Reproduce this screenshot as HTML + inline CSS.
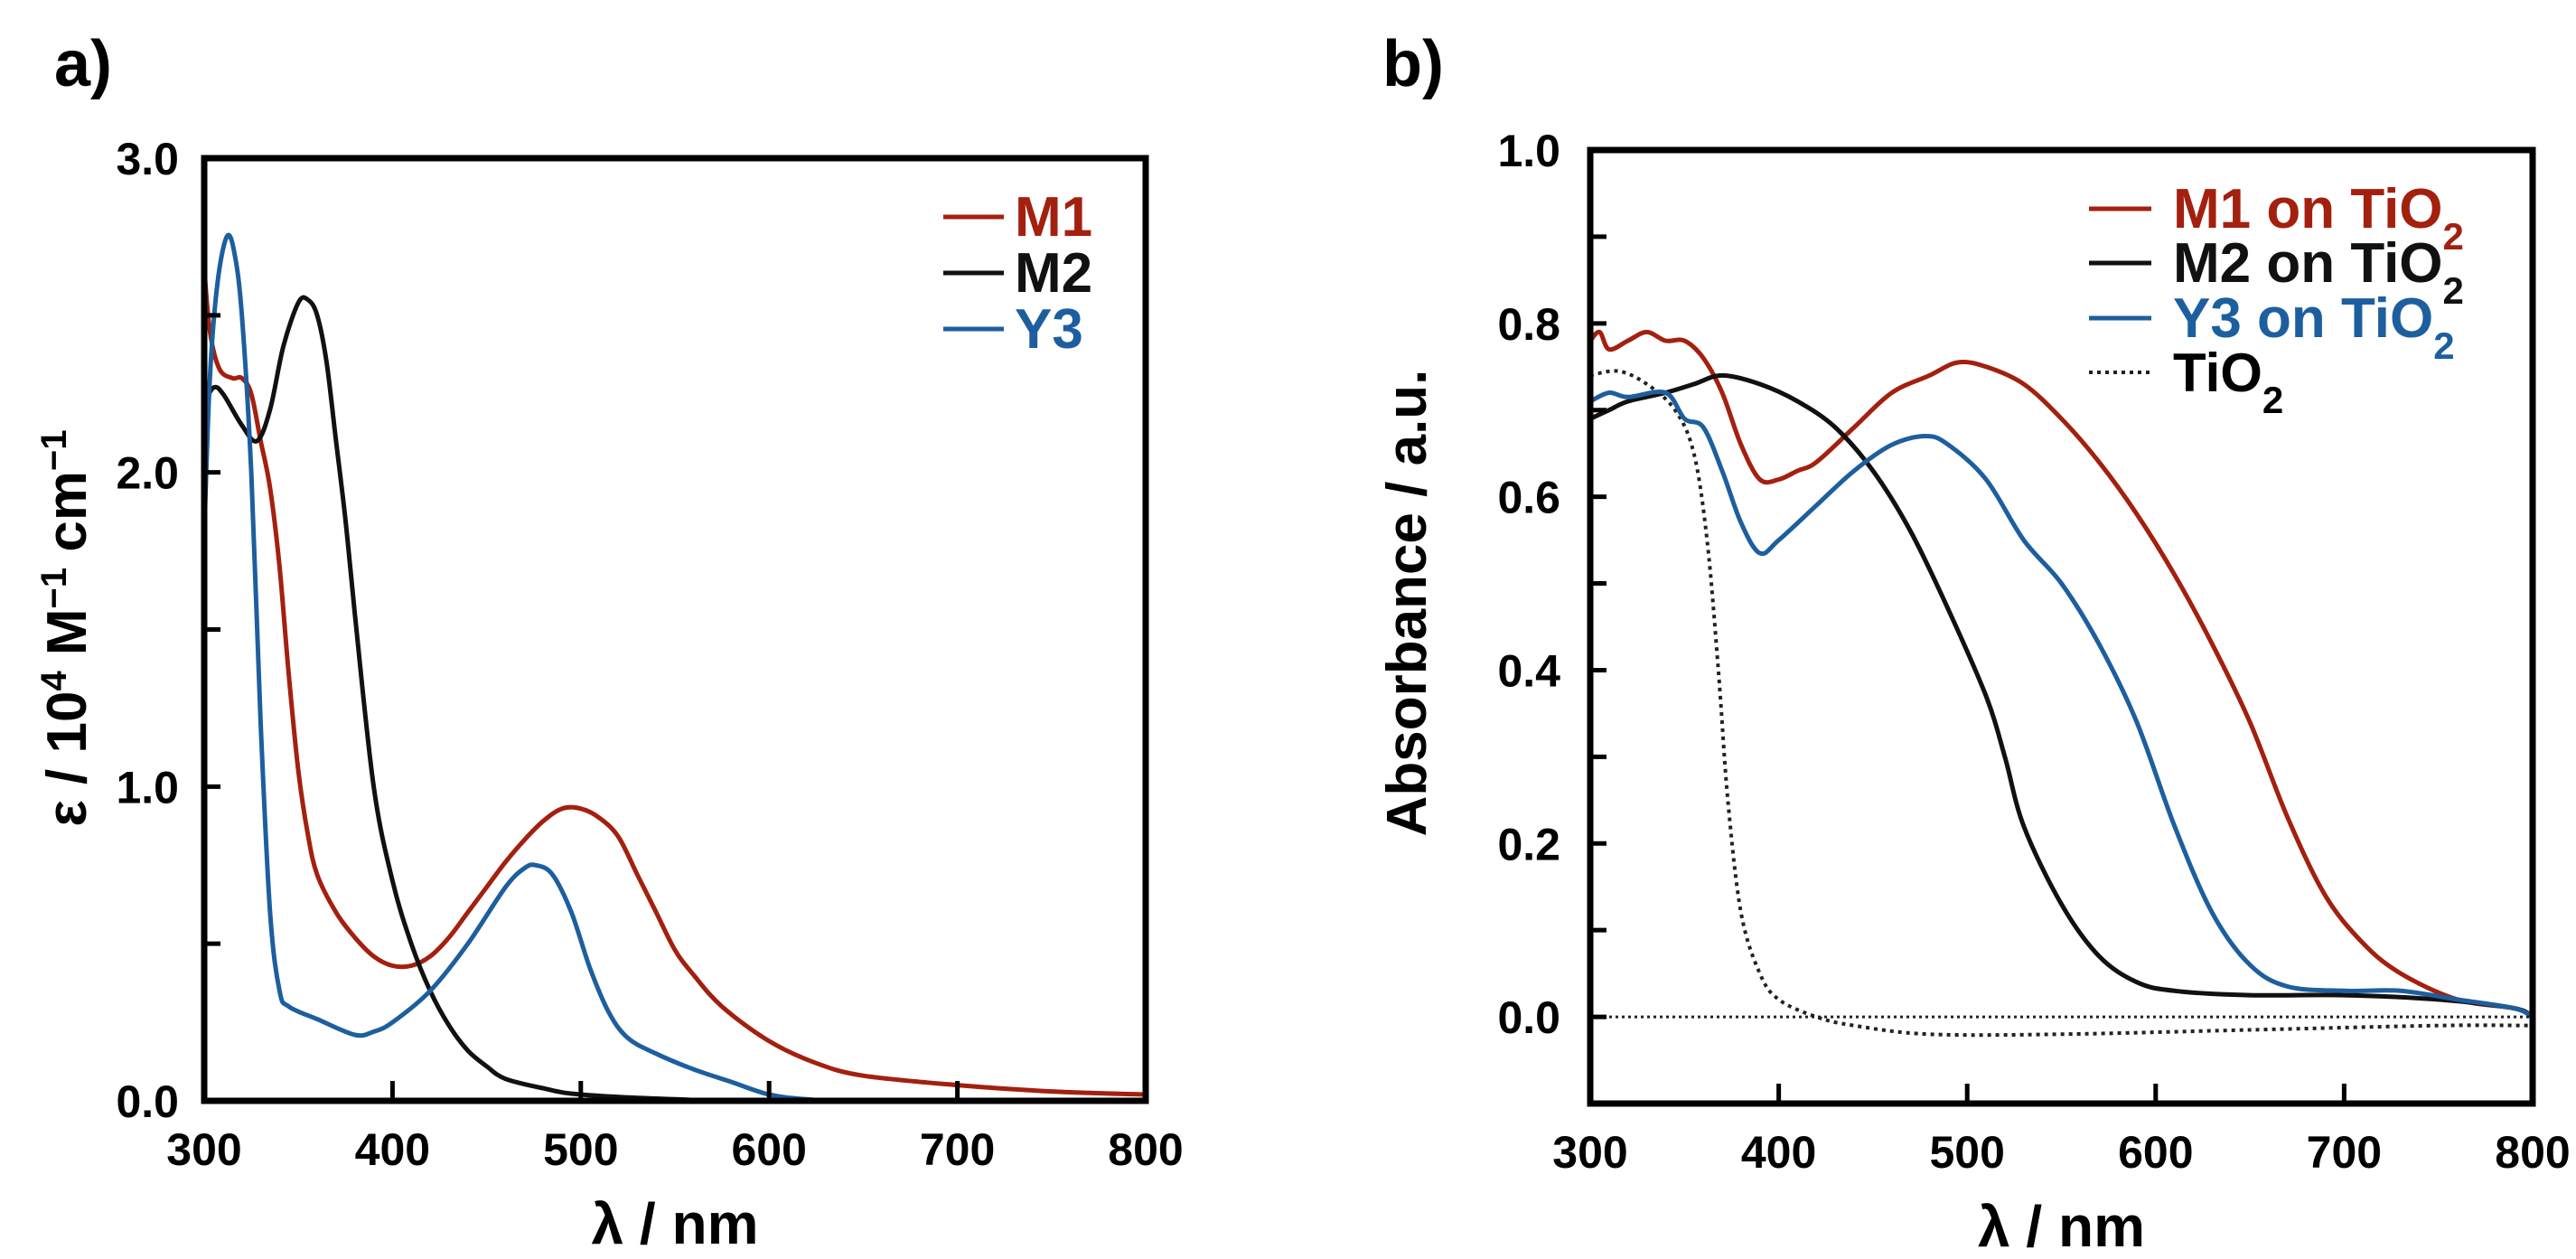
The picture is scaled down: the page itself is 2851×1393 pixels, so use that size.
<!DOCTYPE html>
<html><head><meta charset="utf-8"><style>
html,body{margin:0;padding:0;background:#fff}
svg{display:block}
text{font-family:"Liberation Sans",Arial,sans-serif;font-weight:bold}
</style></head><body>
<svg id="fig" width="2851" height="1393" viewBox="0 0 2851 1393" xmlns="http://www.w3.org/2000/svg"></svg>
<script>
// ---- Panel a data ----
const aM1x=[300,303,308,315,320,325,330,335,340,345,350,355,360,370,380,390,400,410,420,430,440,450,460,470,480,490,500,510,520,530,540,550,560,575,600,625,650,700,750,800];
const aM1y=[2.65,2.45,2.33,2.3,2.3,2.25,2.1,1.95,1.7,1.35,1.05,0.85,0.72,0.6,0.52,0.46,0.43,0.43,0.46,0.52,0.6,0.68,0.76,0.83,0.89,0.93,0.93,0.9,0.84,0.72,0.6,0.48,0.4,0.3,0.19,0.12,0.08,0.05,0.03,0.02];
const aM2x=[300,305,310,320,328,335,342,350,355,360,365,370,375,380,390,400,410,420,430,440,450,460,480,500,550,600,800];
const aM2y=[2.22,2.27,2.25,2.15,2.1,2.2,2.4,2.54,2.55,2.5,2.35,2.1,1.85,1.55,1.0,0.7,0.5,0.35,0.24,0.16,0.11,0.07,0.04,0.02,0.005,0,0];
const aY3x=[300,303,307,312,316,320,325,330,335,340,345,360,380,390,400,420,440,460,470,476,485,495,505,515,525,540,560,580,600,620,650,800];
const aY3y=[1.8,2.3,2.6,2.75,2.7,2.5,2.0,1.2,0.6,0.35,0.3,0.26,0.21,0.22,0.25,0.35,0.5,0.68,0.74,0.75,0.72,0.6,0.42,0.28,0.2,0.15,0.1,0.06,0.02,0.005,0,0];
const aXTicks=[300,400,500,600,700,800];
const aYTicks=[0,0.5,1,1.5,2,2.5,3];
const aYLabels=["0.0","","1.0","","2.0","","3.0"];
// ---- Panel b data ----
const bM1x=[300,305,310,320,330,340,350,360,370,380,390,400,410,420,440,460,480,495,510,530,550,570,590,610,630,650,670,690,710,730,760,790,800];
const bM1y=[0.78,0.79,0.77,0.78,0.79,0.78,0.78,0.76,0.72,0.66,0.62,0.62,0.63,0.64,0.68,0.72,0.74,0.755,0.75,0.73,0.69,0.64,0.58,0.51,0.43,0.34,0.23,0.14,0.085,0.05,0.02,0.01,0.0];
const bM2x=[300,310,320,340,355,370,390,410,430,450,470,490,510,520,530,550,570,590,610,650,700,750,790,800];
const bM2y=[0.69,0.7,0.71,0.72,0.73,0.74,0.73,0.71,0.68,0.63,0.56,0.47,0.37,0.3,0.22,0.13,0.07,0.04,0.03,0.025,0.025,0.02,0.01,0];
const bY3x=[300,310,320,340,350,360,370,380,390,400,420,440,460,478,490,510,530,550,570,590,610,630,650,670,700,730,760,790,800];
const bY3y=[0.71,0.72,0.715,0.72,0.69,0.68,0.63,0.57,0.535,0.55,0.59,0.63,0.66,0.67,0.66,0.62,0.55,0.5,0.43,0.34,0.22,0.12,0.06,0.035,0.03,0.03,0.02,0.01,0];
const bTiO2x=[300,315,330,345,355,362,368,373,380,390,400,420,440,480,550,650,750,800];
const bTiO2y=[0.74,0.745,0.73,0.7,0.65,0.55,0.4,0.25,0.12,0.05,0.02,0.0,-0.01,-0.02,-0.02,-0.015,-0.01,-0.01];
const bXTicks=[300,400,500,600,700,800];
const bYTicks=[-0.1,0,0.1,0.2,0.3,0.4,0.5,0.6,0.7,0.8,0.9,1.0];
const bYLabels=["","0.0","","0.2","","0.4","","0.6","","0.8","","1.0"];

const NS="http://www.w3.org/2000/svg";
const svg=document.getElementById('fig');
function el(tag,attrs,parent){const e=document.createElementNS(NS,tag);for(const k in attrs)e.setAttribute(k,attrs[k]);(parent||svg).appendChild(e);return e;}
const RED="#a3200f",BLK="#111",BLU="#1d5f9e";

function smoothPath(pts){
  let d='M'+pts[0][0].toFixed(1)+' '+pts[0][1].toFixed(1);
  for(let i=0;i<pts.length-1;i++){
    const p0=pts[Math.max(0,i-1)],p1=pts[i],p2=pts[i+1],p3=pts[Math.min(pts.length-1,i+2)];
    const c1x=p1[0]+(p2[0]-p0[0])/6,c1y=p1[1]+(p2[1]-p0[1])/6;
    const c2x=p2[0]-(p3[0]-p1[0])/6,c2y=p2[1]-(p3[1]-p1[1])/6;
    d+='C'+c1x.toFixed(1)+' '+c1y.toFixed(1)+' '+c2x.toFixed(1)+' '+c2y.toFixed(1)+' '+p2[0].toFixed(1)+' '+p2[1].toFixed(1);
  }
  return d;
}

function panel(P){
  const g=el('g',{});
  
  
  const X=v=>P.x0+(v-P.xmin)/(P.xmax-P.xmin)*(P.x1-P.x0);
  const Y=v=>P.y1-(v-P.ymin)/(P.ymax-P.ymin)*(P.y1-P.y0);
  P.series.forEach(s=>{
    const pts=s.x.map((v,i)=>[X(v),Y(s.y[i])]);
    const p=el('path',{d:smoothPath(pts),fill:'none',stroke:s.color,'stroke-width':s.dash?4:5,'stroke-linejoin':'round'},g);
    if(s.dash)p.setAttribute('stroke-dasharray',s.dash);
    
    
  });
  if(P.zeroLine){
    const z=el('line',{x1:P.x0,x2:P.x1,y1:Y(0),y2:Y(0),stroke:'#222','stroke-width':3,'stroke-dasharray':'3 4'},g);
    
    
  }
  const f=el('rect',{x:P.x0,y:P.y0,width:P.x1-P.x0,height:P.y1-P.y0,fill:'none',stroke:'#000','stroke-width':7},g);
  
  
  P.xticks.forEach(t=>{
    el('line',{x1:X(t),x2:X(t),y1:P.y1,y2:P.y1-22,stroke:'#000','stroke-width':5},g);
    const tx=el('text',{x:X(t),y:P.y1+71,'font-size':50,'text-anchor':'middle'},g);
    tx.textContent=t;
    
    
  });
  P.yticks.forEach((t,i)=>{
    el('line',{x1:P.x0,x2:P.x0+18,y1:Y(t),y2:Y(t),stroke:'#000','stroke-width':5},g);
    if(P.ylabels[i]){
      const tx=el('text',{x:P.ylx,y:Y(t)+18,'font-size':50,'text-anchor':'end'},g);
      tx.textContent=P.ylabels[i];
      
      
    }
  });
  const xt=el('text',{x:(P.x0+P.x1)/2,y:P.y1+158,'font-size':64,'text-anchor':'middle'},g);
  xt.textContent='λ / nm';
  
  
  const yt=el('text',{x:0,y:0,'font-size':62,'text-anchor':'middle',transform:`translate(${P.ytx},${P.yty}) rotate(-90)`},g);
  yt.innerHTML=P.ytitle;
  
  
  const pl=el('text',{x:P.plx,y:95,'font-size':72},g);
  pl.textContent=P.plabel;
  
  
  P.legend.forEach(L=>{
    const lg=el('g',{},g);
    
    
    const ln=el('line',{x1:P.lgx0,x2:P.lgx1,y1:L.y,y2:L.y,stroke:L.color,'stroke-width':L.dash?4:5},lg);
    if(L.dash)ln.setAttribute('stroke-dasharray',L.dash);
    const tx=el('text',{x:P.lgtx,y:L.y+21,'font-size':L.fs||60,fill:L.color==='#222'?'#000':L.color},lg);
    tx.innerHTML=L.label;
  });
}

panel({name:'panel-a-chart',x0:226,x1:1268,y0:175,y1:1218,xmin:300,xmax:800,ymin:0,ymax:3,
  series:[{id:'series-m1',x:aM1x,y:aM1y,color:RED},{id:'series-m2',x:aM2x,y:aM2y,color:BLK},{id:'series-y3',x:aY3x,y:aY3y,color:BLU}],
  xticks:aXTicks,yticks:aYTicks,ylabels:aYLabels,ylx:198,
  ytitle:'ε / 10<tspan baseline-shift="super" font-size="40">4</tspan> M<tspan baseline-shift="super" font-size="40">−1</tspan> cm<tspan baseline-shift="super" font-size="40">−1</tspan>',
  ytx:95,yty:695,plabel:'a)',plx:60,
  lgx0:1044,lgx1:1111,lgtx:1123,
  legend:[{y:240,color:RED,label:'M1',fs:62},{y:302,color:BLK,label:'M2',fs:62},{y:364,color:BLU,label:'Y3',fs:62}]});

panel({name:'panel-b-chart',x0:1760,x1:2803,y0:166,y1:1221,xmin:300,xmax:800,ymin:-0.1,ymax:1.0,zeroLine:true,
  series:[{id:'series-tio2',x:bTiO2x,y:bTiO2y,color:'#222',dash:'4 5'},{id:'series-m1-tio2',x:bM1x,y:bM1y,color:RED},{id:'series-m2-tio2',x:bM2x,y:bM2y,color:BLK},{id:'series-y3-tio2',x:bY3x,y:bY3y,color:BLU}],
  xticks:bXTicks,yticks:bYTicks,ylabels:bYLabels,ylx:1727,
  ytitle:'Absorbance / a.u.',ytx:1578,yty:667,plabel:'b)',plx:1530,
  lgx0:2312,lgx1:2381,lgtx:2405,
  legend:[{y:231,color:RED,label:'M1 on TiO<tspan baseline-shift="sub" font-size="42">2</tspan>',fs:62},
          {y:291,color:BLK,label:'M2 on TiO<tspan baseline-shift="sub" font-size="42">2</tspan>',fs:62},
          {y:352,color:BLU,label:'Y3 on TiO<tspan baseline-shift="sub" font-size="42">2</tspan>',fs:62},
          {y:412,color:'#222',dash:'4 5',label:'TiO<tspan baseline-shift="sub" font-size="42">2</tspan>',fs:60}]});
</script>
</body></html>
